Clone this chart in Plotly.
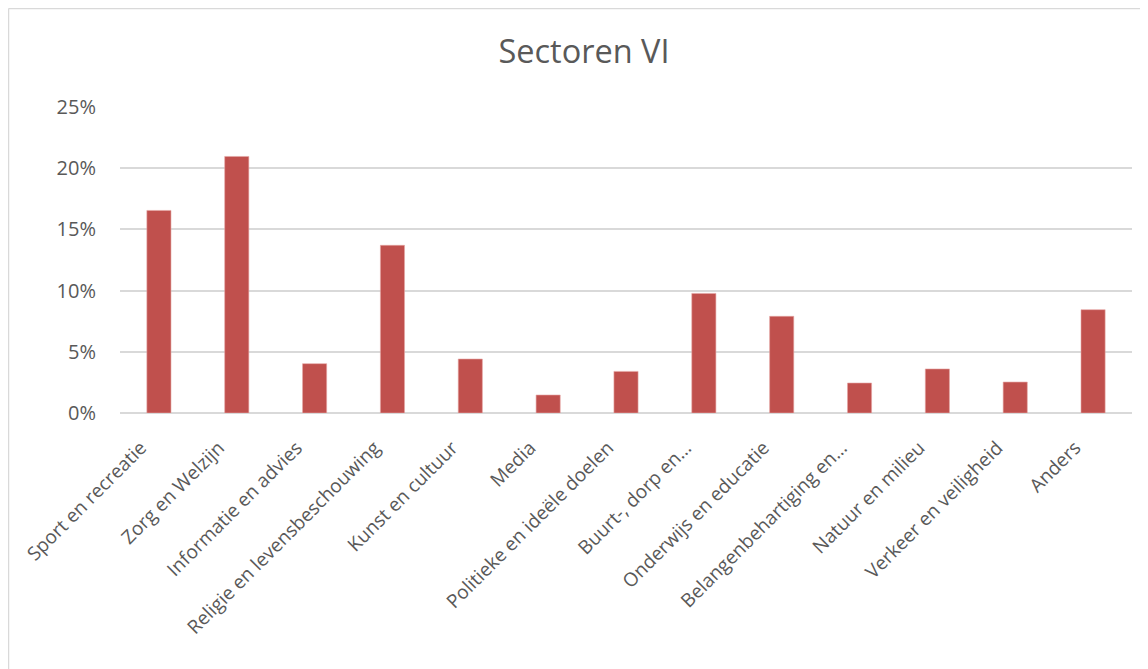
import plotly.graph_objects as go

categories = [
    "Sport en recreatie", "Zorg en Welzijn", "Informatie en advies",
    "Religie en levensbeschouwing", "Kunst en cultuur", "Media",
    "Politieke en ideële doelen", "Buurt-, dorp en…", "Onderwijs en educatie",
    "Belangenbehartiging en…", "Natuur en milieu", "Verkeer en veiligheid", "Anders",
]
values = [0.1655, 0.2096, 0.0403, 0.137, 0.0441, 0.0147, 0.034, 0.0977,
          0.079, 0.0245, 0.036, 0.0253, 0.0844]
y_ticks = [0, 0.05, 0.10, 0.15, 0.20, 0.25]
y_tick_labels = ["0%", "5%", "10%", "15%", "20%", "25%"]

FONT = "Open Sans"
GREY = "#595959"

# page body has an 8px margin; figure origin sits at (8, 8) in the window
OFF = 8
W, H = 1148 - OFF, 669 - OFF
L, R, T, B = 120 - OFF, 16, 107 - OFF, 669 - 413
pw, ph = W - L - R, H - T - B

def px_x(x):
    return (x - L) / pw

def px_y(y):
    return (H - B - y) / ph

fig = go.Figure(go.Bar(
    x=categories, y=values,
    marker=dict(color="#c0504d", line=dict(color="#e6a6a4", width=0.6)),
    width=0.31,
))

fig.update_layout(
    width=W, height=H,
    margin=dict(l=L, r=R, t=T, b=B),
    paper_bgcolor="white", plot_bgcolor="white",
    title=dict(text="Sectoren VI", x=(584 - OFF) / W, xanchor="center",
               y=1 - (52 - OFF) / H, yanchor="middle",
               font=dict(family=FONT, size=32.5, color=GREY)),
    showlegend=False,
    xaxis=dict(
        type="category", tickangle=-45, showgrid=False, showline=False, zeroline=False,
        ticks="", ticklabelstandoff=19, ticklabelshift=-18,
        tickfont=dict(family=FONT, size=19, color=GREY),
    ),
    yaxis=dict(
        range=[0, 0.25], tickvals=y_ticks, ticktext=y_tick_labels,
        showgrid=True, gridcolor="#d9d9d9", gridwidth=1.5,
        zeroline=True, zerolinecolor="#d9d9d9", zerolinewidth=1.5,
        showline=False, ticks="outside", ticklen=19, tickcolor="rgba(0,0,0,0)",
        tickfont=dict(family=FONT, size=20, color=GREY),
    ),
    shapes=[
        dict(type="line", xref="paper", yref="paper",
             x0=px_x(0.5), x1=px_x(W + 5), y0=px_y(0.5), y1=px_y(0.5),
             line=dict(color="#d9d9d9", width=1.5)),
        dict(type="line", xref="paper", yref="paper",
             x0=px_x(0.5), x1=px_x(0.5), y0=px_y(0.5), y1=px_y(H + 5),
             line=dict(color="#d9d9d9", width=1.5)),
    ],
)

fig.write_html("out.html")
